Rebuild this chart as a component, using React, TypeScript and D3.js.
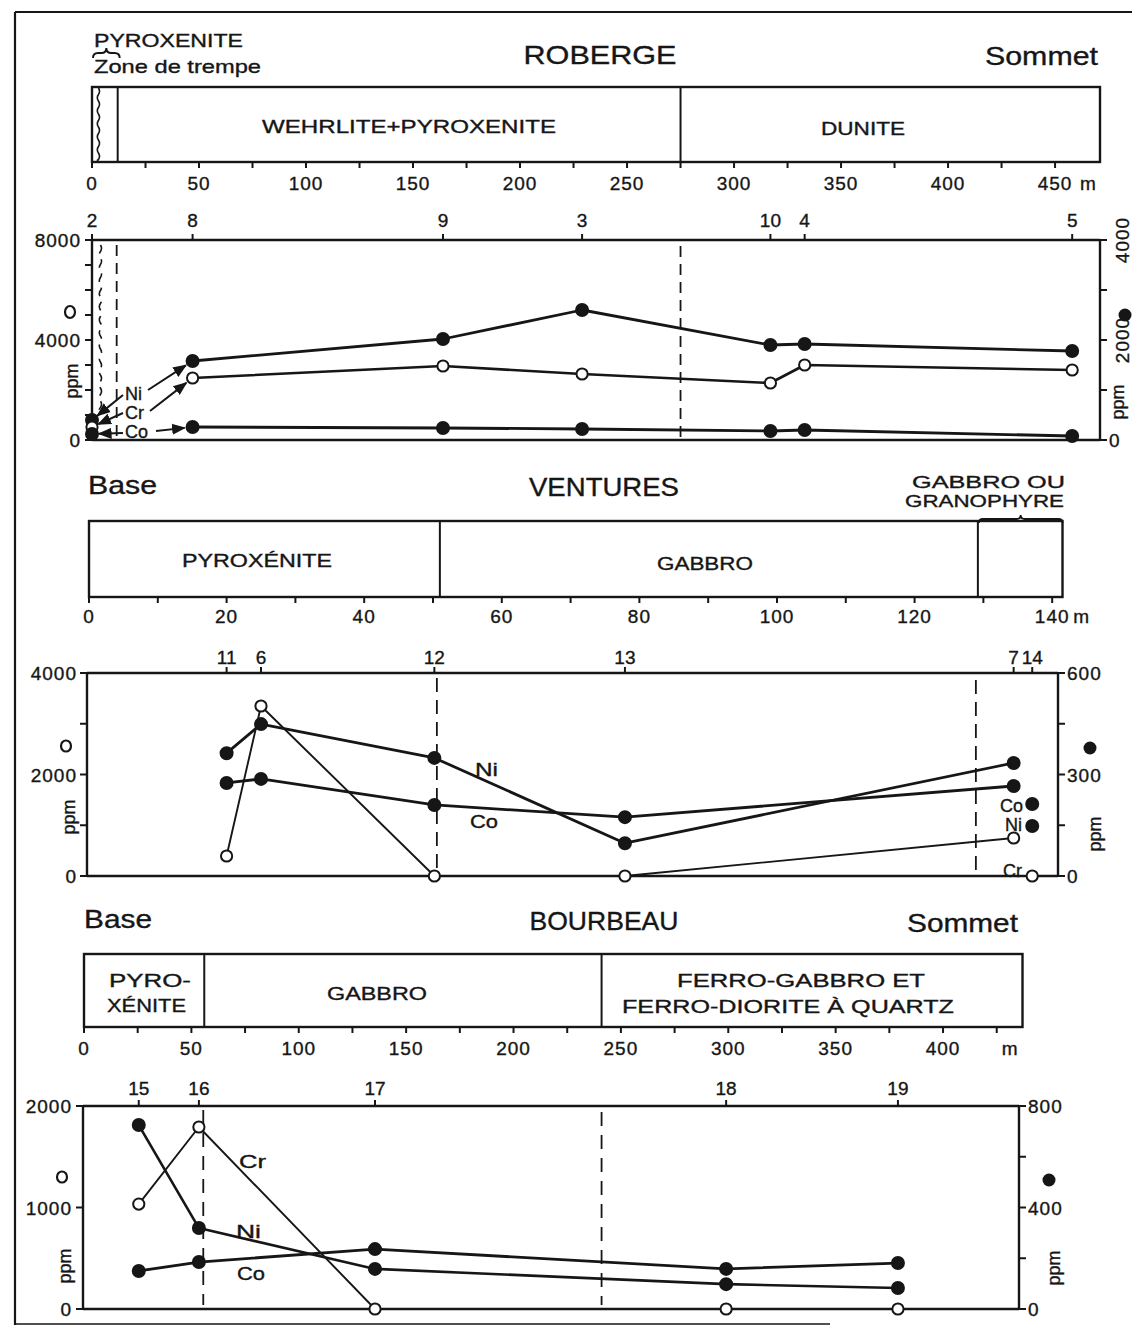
import React from "react";
import * as d3 from "d3";

// ---------- ROBERGE ----------
const robergeSamples = ["2", "8", "9", "3", "10", "4", "5"];
const robergeDepth = [0, 47, 164, 229, 317, 333, 458];
const robergeNi = [400, 1580, 2020, 2600, 1900, 1920, 1780];
const robergeCr = [520, 2480, 2960, 2640, 2280, 3000, 2800];
const robergeCo = [120, 260, 240, 220, 180, 200, 80];
const robergeMetreTicks = [0, 25, 50, 75, 100, 125, 150, 175, 200, 225, 250, 275, 300, 325, 350, 375, 400, 425, 450];
const robergeMetreLabels = [0, 50, 100, 150, 200, 250, 300, 350, 400, 450];
const robergeLeftTicks = [0, 1000, 2000, 3000, 4000, 5000, 6000, 7000, 8000];
const robergeLeftLabels = [0, 4000, 8000];
const robergeRightTicks = [0, 1000, 2000, 3000, 4000];
const robergeRightLabels = [0, 2000, 4000];
const robergeEnd = 471;
const robergeWavy = 3;
const robergeTrempe = 12;
const robergeContact = 275;

// ---------- VENTURES ----------
const venturesSamples = ["11", "6", "12", "13", "7", "14"];
const venturesDepth = [20, 25, 50.2, 77.9, 134.4, 137.1];
const venturesNi = [363, 449, 349, 97, 334, 148];
const venturesCo = [275, 287, 210, 174, 266, 213];
const venturesCr = [394, 3350, 0, 0, 749, 0];
const venturesMetreTicks = [0, 10, 20, 30, 40, 50, 60, 70, 80, 90, 100, 110, 120, 130, 140];
const venturesMetreLabels = [0, 20, 40, 60, 80, 100, 120, 140];
const venturesLeftTicks = [0, 1000, 2000, 3000, 4000];
const venturesLeftLabels = [0, 2000, 4000];
const venturesRightTicks = [0, 150, 300, 450, 600];
const venturesRightLabels = [0, 300, 600];
const venturesEnd = 141.5;
const venturesContacts = [51, 129.2];

// ---------- BOURBEAU ----------
const bourbeauSamples = ["15", "16", "17", "18", "19"];
const bourbeauDepth = [25.5, 53.5, 135.5, 299, 379];
const bourbeauNi = [725, 319, 158, 98, 83];
const bourbeauCo = [150, 185, 236, 158, 181];
const bourbeauCr = [1034, 1793, 0, 0, 0];
const bourbeauMetreTicks = [0, 25, 50, 75, 100, 125, 150, 175, 200, 225, 250, 275, 300, 325, 350, 375, 400, 425];
const bourbeauMetreLabels = [0, 50, 100, 150, 200, 250, 300, 350, 400];
const bourbeauLeftTicks = [0, 1000, 2000];
const bourbeauLeftLabels = [0, 1000, 2000];
const bourbeauRightTicks = [0, 200, 400, 600, 800];
const bourbeauRightLabels = [0, 400, 800];
const bourbeauEnd = 437;
const bourbeauContacts = [56, 241];

const INK = "#161616";
const FONT = "'Liberation Sans', Arial, Helvetica, sans-serif";

type TP = {
  x: number; y: number; s?: number; a?: "start" | "middle" | "end";
  len?: number; rot?: boolean; ls?: number; children: React.ReactNode;
};
function T({ x, y, s = 19, a = "start", len, rot, ls, children }: TP) {
  return (
    <text
      x={rot ? 0 : x}
      y={rot ? 0 : y}
      transform={rot ? `translate(${x},${y}) rotate(-90)` : undefined}
      fontSize={s}
      textAnchor={a}
      textLength={len}
      lengthAdjust={len ? "spacingAndGlyphs" : undefined}
      letterSpacing={ls}
      fontFamily={FONT}
      fill={INK}
      stroke={INK}
      strokeWidth={0.35}
    >
      {children}
    </text>
  );
}

function wavy(x: number, y0: number, y1: number, amp: number, period: number) {
  let d = `M${x},${y0}`;
  let y = y0;
  let s = 1;
  while (y < y1 - 0.01) {
    const ny = Math.min(y + period / 2, y1);
    d += ` Q${x + s * amp},${(y + ny) / 2} ${x},${ny}`;
    y = ny;
    s = -s;
  }
  return d;
}

function brace(x0: number, x1: number, y: number, h: number) {
  const m = (x0 + x1) / 2;
  return `M${x0},${y + h} Q${x0},${y} ${x0 + h},${y} L${m - h},${y} Q${m},${y} ${m},${y - h} Q${m},${y} ${m + h},${y} L${x1 - h},${y} Q${x1},${y} ${x1},${y + h}`;
}

type Sc = d3.ScaleLinear<number, number>;

function StripAxis({ x, ticks, labels, y, labelY }: { x: Sc; ticks: number[]; labels: number[]; y: number; labelY: number }) {
  return (
    <g>
      {ticks.map((t) => (
        <line key={t} x1={x(t)} x2={x(t)} y1={y} y2={y + 6} stroke={INK} strokeWidth={2} />
      ))}
      {labels.map((t) => (
        <T key={t} x={x(t)} y={labelY} a="middle" s={19} ls={1}>{t}</T>
      ))}
    </g>
  );
}

type FrameP = {
  x: Sc; left: number; right: number; top: number; bottom: number;
  yL: Sc; yR: Sc; lT: number[]; lL: number[]; rT: number[]; rL: number[];
  rot?: boolean; samples: string[]; depth: number[]; sampleY: number; lGap: number;
};
function ChartFrame(p: FrameP) {
  const { x, left, right, top, bottom, yL, yR } = p;
  return (
    <g>
      <line x1={left} x2={right} y1={top} y2={top} stroke={INK} strokeWidth={2.6} />
      <line x1={left} x2={right} y1={bottom} y2={bottom} stroke={INK} strokeWidth={2.6} />
      <line x1={left} x2={left} y1={top} y2={bottom} stroke={INK} strokeWidth={2.4} />
      <line x1={right} x2={right} y1={top} y2={bottom} stroke={INK} strokeWidth={2.4} />
      {p.lT.map((v) => (
        <line key={"lt" + v} x1={left - 7} x2={left} y1={yL(v)} y2={yL(v)} stroke={INK} strokeWidth={2} />
      ))}
      {p.lL.map((v) => (
        <T key={"ll" + v} x={left - p.lGap} y={yL(v) + 7} a="end" s={19} ls={1}>{v}</T>
      ))}
      {p.rT.map((v) => (
        <line key={"rt" + v} x1={right} x2={right + 7} y1={yR(v)} y2={yR(v)} stroke={INK} strokeWidth={2} />
      ))}
      {p.rL.map((v) =>
        p.rot && v !== 0 ? (
          <T key={"rl" + v} rot x={right + 29} y={yR(v)} a="middle" s={19} ls={1}>{v}</T>
        ) : (
          <T key={"rl" + v} x={right + 9} y={yR(v) + 7} s={19} ls={1}>{v}</T>
        )
      )}
      {p.depth.map((d, i) => (
        <g key={"s" + i}>
          <line x1={x(d)} x2={x(d)} y1={top - 6} y2={top} stroke={INK} strokeWidth={2} />
          <T x={x(d)} y={p.sampleY} a="middle" s={19}>{p.samples[i]}</T>
        </g>
      ))}
    </g>
  );
}

function SeriesLine({ x, y, depth, vals, idx, sw }: { x: Sc; y: Sc; depth: number[]; vals: number[]; idx: number[]; sw: number }) {
  const line = d3.line<number>().x((i) => x(depth[i])).y((i) => y(vals[i]));
  return <path d={line(idx) || ""} fill="none" stroke={INK} strokeWidth={sw} strokeLinejoin="round" />;
}

function Dots({ x, y, depth, vals, idx, filled }: { x: Sc; y: Sc; depth: number[]; vals: number[]; idx: number[]; filled: boolean }) {
  return (
    <g>
      {idx.map((i) => (
        <circle key={i} cx={x(depth[i])} cy={y(vals[i])} r={filled ? 6 : 5.6}
          fill={filled ? INK : "#fff"} stroke={INK} strokeWidth={2} />
      ))}
    </g>
  );
}

function arrowLine(x1: number, y1: number, x2: number, y2: number, gap: number) {
  const dx = x2 - x1, dy = y2 - y1;
  const L = Math.hypot(dx, dy);
  return { x1, y1, x2: x2 - (dx / L) * gap, y2: y2 - (dy / L) * gap };
}

export default function App() {
  const rx = d3.scaleLinear().domain([0, robergeEnd]).range([92, 1100]);
  const rYL = d3.scaleLinear().domain([0, 8000]).range([440, 240]);
  const rYR = d3.scaleLinear().domain([0, 4000]).range([440, 240]);

  const vx = d3.scaleLinear().domain([0, venturesEnd]).range([89, 1062.5]);
  const vYL = d3.scaleLinear().domain([0, 4000]).range([876, 673]);
  const vYR = d3.scaleLinear().domain([0, 600]).range([876, 673]);

  const bx = d3.scaleLinear().domain([0, bourbeauEnd]).range([84, 1022.5]);
  const bYL = d3.scaleLinear().domain([0, 2000]).range([1309, 1106]);
  const bYR = d3.scaleLinear().domain([0, 800]).range([1309, 1106]);

  const rAll = [0, 1, 2, 3, 4, 5, 6];
  const rLine = [1, 2, 3, 4, 5, 6];
  const vLine = [0, 1, 2, 3, 4];
  const vAll = [0, 1, 2, 3, 4, 5];
  const bAll = [0, 1, 2, 3, 4];

  const arrows = [
    arrowLine(123, 395, rx(robergeDepth[0]), rYR(robergeNi[0]), 7),
    arrowLine(148, 390, rx(robergeDepth[1]), rYR(robergeNi[1]), 8),
    arrowLine(123, 413, rx(robergeDepth[0]), rYL(robergeCr[0]), 7),
    arrowLine(150, 411, rx(robergeDepth[1]), rYL(robergeCr[1]), 8),
    arrowLine(123, 433, rx(robergeDepth[0]), rYR(robergeCo[0]), 7),
    arrowLine(156, 431, rx(robergeDepth[1]), rYR(robergeCo[1]), 8),
  ];

  const dash = "11 7";

  return (
    <svg width={1132} height={1327} style={{ position: "absolute", left: 0, top: 0, display: "block", background: "#fff" }}>
      <defs>
        <marker id="arr" viewBox="0 0 10 10" refX="9" refY="5" markerWidth="7" markerHeight="7" orient="auto">
          <path d="M0,1 L10,5 L0,9 z" fill={INK} />
        </marker>
      </defs>
      <rect x={0} y={0} width={1132} height={1327} fill="#fff" />

      {/* outer frame */}
      <line x1={15} x2={15} y1={12} y2={1325} stroke={INK} strokeWidth={2.2} />
      <line x1={15} x2={1132} y1={12} y2={12} stroke={INK} strokeWidth={2.2} />
      <line x1={15} x2={830} y1={1324} y2={1324} stroke={INK} strokeWidth={1.6} />

      {/* ================= ROBERGE ================= */}
      <T x={94} y={47} s={18} len={149}>PYROXENITE</T>
      <path d={brace(rx(0) + 1, rx(robergeTrempe) + 2, 53, 5)} fill="none" stroke={INK} strokeWidth={2} />
      <T x={94} y={73} s={19} len={167}>Zone de trempe</T>
      <T x={600} y={64} s={25} a="middle" len={153}>ROBERGE</T>
      <T x={985} y={65} s={25} len={113}>Sommet</T>

      <rect x={rx(0)} y={87} width={rx(robergeEnd) - rx(0)} height={75} fill="none" stroke={INK} strokeWidth={2.4} />
      <path d={wavy(rx(robergeWavy), 88, 161, 2.2, 13)} fill="none" stroke={INK} strokeWidth={1.6} />
      <line x1={rx(robergeTrempe)} x2={rx(robergeTrempe)} y1={87} y2={162} stroke={INK} strokeWidth={2} />
      <line x1={rx(robergeContact)} x2={rx(robergeContact)} y1={87} y2={162} stroke={INK} strokeWidth={2} />
      <T x={262} y={133} s={18} len={294}>WEHRLITE+PYROXENITE</T>
      <T x={821} y={135} s={18} len={84}>DUNITE</T>
      <StripAxis x={rx} ticks={robergeMetreTicks} labels={robergeMetreLabels} y={162} labelY={190} />
      <T x={rx(450) + 25} y={190} s={19}>m</T>

      <ChartFrame x={rx} left={92} right={1100} top={240} bottom={440} yL={rYL} yR={rYR}
        lT={robergeLeftTicks} lL={robergeLeftLabels} rT={robergeRightTicks} rL={robergeRightLabels}
        rot samples={robergeSamples} depth={robergeDepth} sampleY={227} lGap={11} />
      <ellipse cx={70} cy={312} rx={5} ry={6} fill="none" stroke={INK} strokeWidth={2.2} />
      <T rot x={78} y={381} a="middle" s={18}>ppm</T>
      <T rot x={1124} y={402} a="middle" s={18}>ppm</T>
      <circle cx={1125} cy={315} r={6.5} fill={INK} />

      <path d={wavy(rx(robergeWavy) + 2, 245, 412, 2.2, 13)} fill="none" stroke={INK} strokeWidth={1.6} strokeDasharray="9 6" />
      <line x1={rx(robergeTrempe) - 1} x2={rx(robergeTrempe) - 1} y1={245} y2={438} stroke={INK} strokeWidth={1.8} strokeDasharray={dash} />
      <line x1={rx(robergeContact)} x2={rx(robergeContact)} y1={246} y2={438} stroke={INK} strokeWidth={1.8} strokeDasharray={dash} />

      <SeriesLine x={rx} y={rYR} depth={robergeDepth} vals={robergeNi} idx={rLine} sw={2.8} />
      <SeriesLine x={rx} y={rYL} depth={robergeDepth} vals={robergeCr} idx={rLine} sw={2.6} />
      <SeriesLine x={rx} y={rYR} depth={robergeDepth} vals={robergeCo} idx={rLine} sw={2.8} />
      {arrows.map((a, i) => (
        <line key={i} x1={a.x1} y1={a.y1} x2={a.x2} y2={a.y2} stroke={INK} strokeWidth={2} markerEnd="url(#arr)" />
      ))}
      <Dots x={rx} y={rYR} depth={robergeDepth} vals={robergeNi} idx={rAll} filled />
      <Dots x={rx} y={rYL} depth={robergeDepth} vals={robergeCr} idx={rAll} filled={false} />
      <Dots x={rx} y={rYR} depth={robergeDepth} vals={robergeCo} idx={rAll} filled />
      <T x={125} y={400} s={18}>Ni</T>
      <T x={125} y={419} s={18}>Cr</T>
      <T x={125} y={438} s={18}>Co</T>

      {/* ================= VENTURES ================= */}
      <T x={88} y={494} s={25} len={69}>Base</T>
      <T x={604} y={496} s={25} a="middle" len={150}>VENTURES</T>
      <T x={912} y={488} s={17} len={153}>GABBRO  OU</T>
      <T x={905} y={507} s={17} len={159}>GRANOPHYRE</T>
      <path d={brace(vx(venturesContacts[1]) + 1, vx(venturesEnd), 519, 4)} fill="none" stroke={INK} strokeWidth={1.8} />

      <rect x={vx(0)} y={521} width={vx(venturesEnd) - vx(0)} height={76} fill="none" stroke={INK} strokeWidth={2.4} />
      <line x1={vx(venturesContacts[0])} x2={vx(venturesContacts[0])} y1={521} y2={597} stroke={INK} strokeWidth={2} />
      <line x1={vx(venturesContacts[1])} x2={vx(venturesContacts[1])} y1={521} y2={597} stroke={INK} strokeWidth={2} />
      <T x={182} y={567} s={18} len={150}>PYROXÉNITE</T>
      <T x={657} y={570} s={18} len={96}>GABBRO</T>
      <StripAxis x={vx} ticks={venturesMetreTicks} labels={venturesMetreLabels} y={597} labelY={623} />
      <T x={vx(140) + 21} y={623} s={19}>m</T>

      <ChartFrame x={vx} left={87} right={1058} top={673} bottom={876} yL={vYL} yR={vYR}
        lT={venturesLeftTicks} lL={venturesLeftLabels} rT={venturesRightTicks} rL={venturesRightLabels}
        samples={venturesSamples} depth={venturesDepth} sampleY={664} lGap={10} />
      <ellipse cx={66} cy={746} rx={5} ry={5.5} fill="none" stroke={INK} strokeWidth={2.2} />
      <T rot x={75} y={817} a="middle" s={18}>ppm</T>
      <T rot x={1101} y={834} a="middle" s={18}>ppm</T>
      <circle cx={1090} cy={748} r={6.5} fill={INK} />

      <line x1={vx(venturesContacts[0]) - 3} x2={vx(venturesContacts[0]) - 3} y1={678} y2={874} stroke={INK} strokeWidth={1.8} strokeDasharray="14 8" />
      <line x1={vx(venturesContacts[1]) - 2} x2={vx(venturesContacts[1]) - 2} y1={680} y2={872} stroke={INK} strokeWidth={1.8} strokeDasharray="14 8" />

      <SeriesLine x={vx} y={vYR} depth={venturesDepth} vals={venturesNi} idx={vLine} sw={2.8} />
      <SeriesLine x={vx} y={vYR} depth={venturesDepth} vals={venturesCo} idx={vLine} sw={2.8} />
      <SeriesLine x={vx} y={vYL} depth={venturesDepth} vals={venturesCr} idx={vLine} sw={1.9} />
      <Dots x={vx} y={vYR} depth={venturesDepth} vals={venturesNi} idx={vAll} filled />
      <Dots x={vx} y={vYR} depth={venturesDepth} vals={venturesCo} idx={vAll} filled />
      <Dots x={vx} y={vYL} depth={venturesDepth} vals={venturesCr} idx={vAll} filled={false} />
      <T x={475} y={776} s={18} len={23}>Ni</T>
      <T x={470} y={828} s={18} len={28}>Co</T>
      <T x={1023} y={812} s={18} a="end">Co</T>
      <T x={1022} y={831} s={18} a="end">Ni</T>
      <T x={1022} y={877} s={18} a="end">Cr</T>

      {/* ================= BOURBEAU ================= */}
      <T x={84} y={928} s={25} len={68}>Base</T>
      <T x={604} y={930} s={25} a="middle" len={149}>BOURBEAU</T>
      <T x={907} y={932} s={25} len={111}>Sommet</T>

      <rect x={bx(0)} y={954} width={bx(bourbeauEnd) - bx(0)} height={73} fill="none" stroke={INK} strokeWidth={2.4} />
      <line x1={bx(bourbeauContacts[0])} x2={bx(bourbeauContacts[0])} y1={954} y2={1027} stroke={INK} strokeWidth={2} />
      <line x1={bx(bourbeauContacts[1])} x2={bx(bourbeauContacts[1])} y1={954} y2={1027} stroke={INK} strokeWidth={2} />
      <T x={109} y={987} s={18} len={82}>PYRO-</T>
      <T x={107} y={1012} s={18} len={79}>XÉNITE</T>
      <T x={327} y={1000} s={18} len={100}>GABBRO</T>
      <T x={677} y={987} s={18} len={248}>FERRO-GABBRO  ET</T>
      <T x={622} y={1013} s={18} len={332}>FERRO-DIORITE  À  QUARTZ</T>
      <StripAxis x={bx} ticks={bourbeauMetreTicks} labels={bourbeauMetreLabels} y={1027} labelY={1055} />
      <T x={bx(425) + 5} y={1055} s={19}>m</T>

      <ChartFrame x={bx} left={83} right={1019} top={1106} bottom={1309} yL={bYL} yR={bYR}
        lT={bourbeauLeftTicks} lL={bourbeauLeftLabels} rT={bourbeauRightTicks} rL={bourbeauRightLabels}
        samples={bourbeauSamples} depth={bourbeauDepth} sampleY={1095} lGap={11} />
      <ellipse cx={62} cy={1177} rx={5} ry={5.5} fill="none" stroke={INK} strokeWidth={2.2} />
      <T rot x={71} y={1266} a="middle" s={18}>ppm</T>
      <T rot x={1060} y={1268} a="middle" s={18}>ppm</T>
      <circle cx={1049} cy={1180} r={6.5} fill={INK} />

      <line x1={bx(bourbeauContacts[0]) - 1} x2={bx(bourbeauContacts[0]) - 1} y1={1110} y2={1305} stroke={INK} strokeWidth={1.8} strokeDasharray="14 9" />
      <line x1={bx(bourbeauContacts[1])} x2={bx(bourbeauContacts[1])} y1={1112} y2={1305} stroke={INK} strokeWidth={1.8} strokeDasharray="14 9" />

      <SeriesLine x={bx} y={bYR} depth={bourbeauDepth} vals={bourbeauNi} idx={bAll} sw={2.6} />
      <SeriesLine x={bx} y={bYR} depth={bourbeauDepth} vals={bourbeauCo} idx={bAll} sw={2.8} />
      <SeriesLine x={bx} y={bYL} depth={bourbeauDepth} vals={bourbeauCr} idx={bAll} sw={1.9} />
      <Dots x={bx} y={bYR} depth={bourbeauDepth} vals={bourbeauNi} idx={bAll} filled />
      <Dots x={bx} y={bYR} depth={bourbeauDepth} vals={bourbeauCo} idx={bAll} filled />
      <Dots x={bx} y={bYL} depth={bourbeauDepth} vals={bourbeauCr} idx={bAll} filled={false} />
      <T x={239} y={1168} s={18} len={27}>Cr</T>
      <T x={236} y={1238} s={18} len={25}>Ni</T>
      <T x={237} y={1280} s={18} len={28}>Co</T>
    </svg>
  );
}
